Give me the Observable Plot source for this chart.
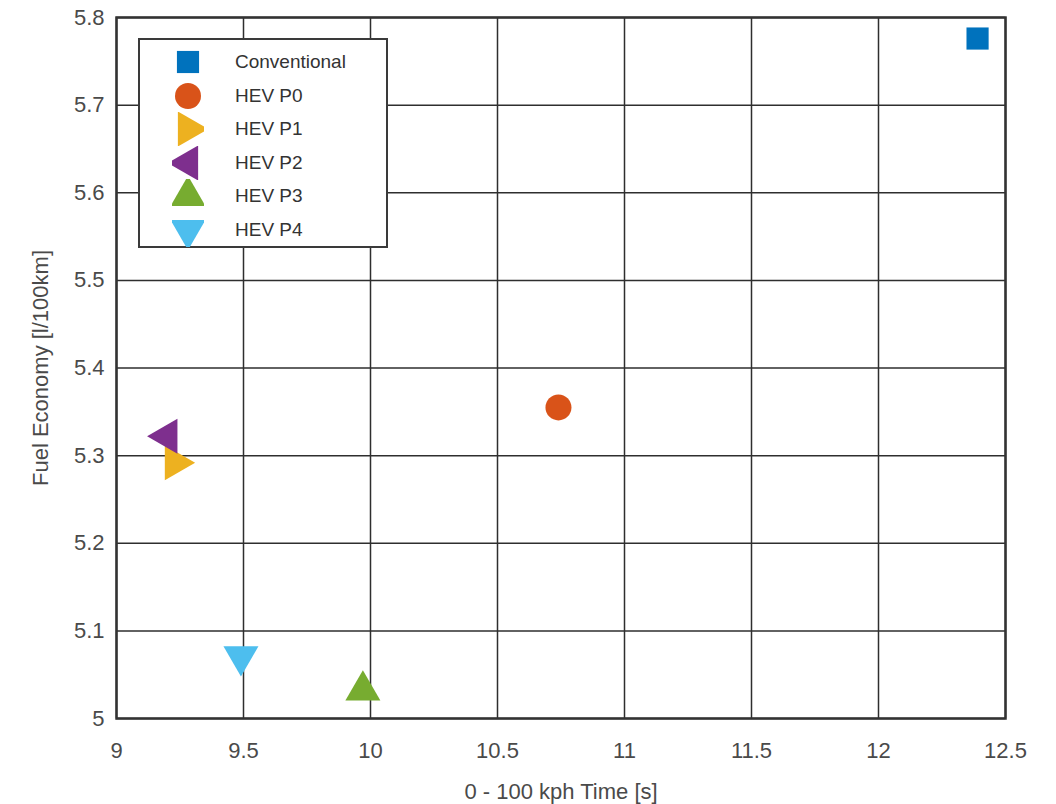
<!DOCTYPE html>
<html>
<head>
<meta charset="utf-8">
<script src="https://cdn.jsdelivr.net/npm/d3@7"></script>
<script src="https://cdn.jsdelivr.net/npm/@observablehq/plot@0.6"></script>
<style>
  html, body { margin: 0; padding: 0; background: #fff; }
  #wrap { position: relative; width: 1056px; height: 804px; font-family: "Liberation Sans", Arial, sans-serif; }
  #legend { position: absolute; left: 138px; top: 38px; width: 250px; height: 210px; border: 2px solid #3a3a3a; background: #fff; box-sizing: border-box; }
  .item { position: absolute; left: 0; height: 34px; display: flex; align-items: center; }
  .item svg { margin-left: 32px; }
  .item span { margin-left: 31px; font-size: 19px; color: #333; }
</style>
</head>
<body>
<div id="wrap"></div>
<script>
const names = ["Conventional", "HEV P0", "HEV P1", "HEV P2", "HEV P3", "HEV P4"];
const accelTime = [12.39, 10.74, 9.23, 9.20, 9.97, 9.49];
const fuelEconomy = [5.776, 5.355, 5.292, 5.322, 5.032, 5.071];
const colors = ["#0072BD", "#D95319", "#EDB120", "#7E2F8E", "#77AC30", "#4DBEEE"];
const symbols = ["square", "circle", "triangle", "triangle", "triangle", "triangle"];
const rotations = [0, 0, 90, -90, 0, 180];
const radii = [12.5, 13, 13, 13, 13, 13];
const xTicks = [9, 9.5, 10, 10.5, 11, 11.5, 12, 12.5];
const yTicks = [5, 5.1, 5.2, 5.3, 5.4, 5.5, 5.6, 5.7, 5.8];

const data = names.map((n, i) => ({name: n, x: accelTime[i], y: fuelEconomy[i], color: colors[i], symbol: symbols[i], rotate: rotations[i], r: radii[i]}));

const chart = Plot.plot({
  width: 1056,
  height: 804,
  marginLeft: 116,
  marginRight: 51,
  marginTop: 17,
  marginBottom: 86,
  style: {fontFamily: "Liberation Sans, Arial, sans-serif", fontSize: "22px", color: "#4a4a4a", background: "#fff"},
  x: {domain: [9, 12.5], ticks: xTicks, tickFormat: d => String(d), label: "0 - 100 kph Time [s]", labelAnchor: "center", labelArrow: "none"},
  y: {domain: [5, 5.8], ticks: yTicks, tickFormat: d => String(d), label: "Fuel Economy [l/100km]", labelAnchor: "center", labelArrow: "none"},
  r: {type: "identity"},
  marks: [
    Plot.ruleX(xTicks, {stroke: "#2e2e2e", strokeWidth: 1.5}),
    Plot.ruleY(yTicks, {stroke: "#2e2e2e", strokeWidth: 1.5}),
    Plot.frame({stroke: "#333", strokeWidth: 2.5}),
    Plot.axisX({ticks: xTicks, tickSize: 0, tickPadding: 24, tickFormat: d => String(d), fontSize: 22, label: "0 - 100 kph Time [s]", labelAnchor: "center", labelOffset: 80, labelArrow: "none"}),
    Plot.axisY({ticks: yTicks, tickSize: 0, tickPadding: 12, tickFormat: d => String(d), fontSize: 22, label: "Fuel Economy [l/100km]", labelAnchor: "center", labelOffset: 84, labelArrow: "none"}),
    Plot.dot(data, {x: "x", y: "y", symbol: "symbol", fill: "color", r: "r", rotate: "rotate", stroke: "none"})
  ]
});
const wrap = document.getElementById("wrap");
wrap.appendChild(chart);

// Legend
const legend = document.createElement("div");
legend.id = "legend";
wrap.appendChild(legend);
const symMap = {square: d3.symbolSquare, circle: d3.symbolCircle, triangle: d3.symbolTriangle};
data.forEach((d, i) => {
  const item = document.createElement("div");
  item.className = "item";
  item.style.top = (5 + i * 33.6) + "px";
  const svg = d3.create("svg").attr("width", 32).attr("height", 34);
  svg.append("path")
    .attr("d", d3.symbol(symMap[d.symbol], Math.PI * d.r * d.r)())
    .attr("transform", `translate(16,17) rotate(${d.rotate})`)
    .attr("fill", d.color);
  item.appendChild(svg.node());
  const span = document.createElement("span");
  span.textContent = d.name;
  item.appendChild(span);
  legend.appendChild(item);
});
</script>
</body>
</html>
